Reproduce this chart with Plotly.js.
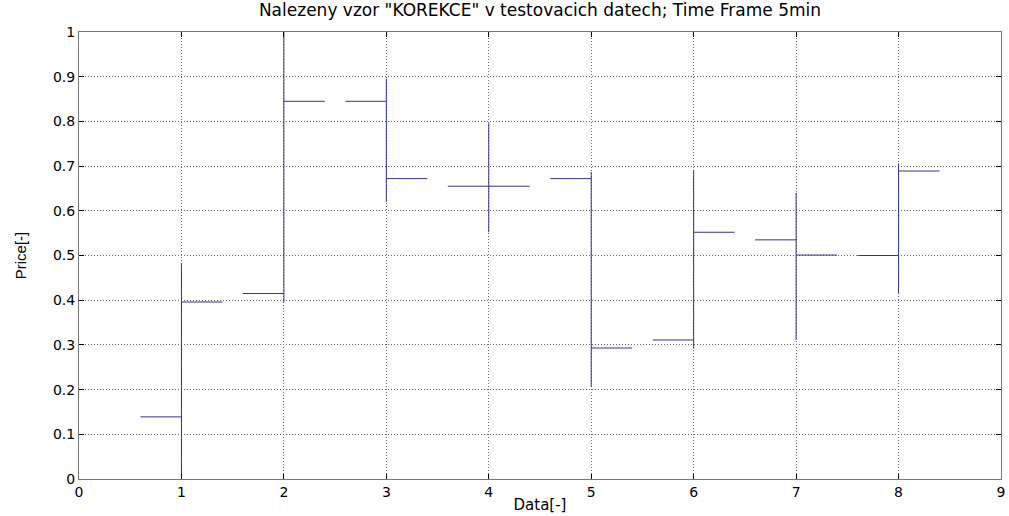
<!DOCTYPE html>
<html>
<head>
<meta charset="utf-8">
<script src="https://cdn.plot.ly/plotly-3.0.1.min.js"></script>
<style>
  html, body { margin: 0; padding: 0; background: #fff; }
  #chart { width: 1009px; height: 516px; }
</style>
</head>
<body>
<div id="chart"></div>
<script>
// Candle index and price levels (normalised 0..1)
const index = [1, 2, 3, 4, 5, 6, 7, 8];
const openPrice  = [0.139, 0.415, 0.845, 0.655, 0.672, 0.311, 0.535, 0.500];
const highPrice  = [0.482, 1.000, 0.896, 0.796, 0.687, 0.691, 0.640, 0.706];
const lowPrice   = [0.000, 0.395, 0.620, 0.552, 0.206, 0.292, 0.311, 0.415];
const closePrice = [0.396, 0.845, 0.672, 0.655, 0.293, 0.552, 0.501, 0.689];

const xTicks = [0, 1, 2, 3, 4, 5, 6, 7, 8, 9];
const yTicks = [0, 0.1, 0.2, 0.3, 0.4, 0.5, 0.6, 0.7, 0.8, 0.9, 1];
const yTickText = ['0', '0.1', '0.2', '0.3', '0.4', '0.5', '0.6', '0.7', '0.8', '0.9', '1'];

const barColor = '#34348a';

const trace = {
  type: 'ohlc',
  x: index,
  open: openPrice,
  high: highPrice,
  low: lowPrice,
  close: closePrice,
  tickwidth: 0.4,
  increasing: { line: { color: barColor, width: 1 } },
  decreasing: { line: { color: barColor, width: 1 } },
  hoverinfo: 'skip',
  showlegend: false
};

const axisFont = { family: 'DejaVu Sans, Arial, sans-serif', size: 14, color: '#000' };
const gridDots = '1px,2px';

const layout = {
  width: 1009,
  height: 516,
  margin: { l: 79, r: 8, t: 32, b: 37, pad: 0 },
  paper_bgcolor: '#fff',
  plot_bgcolor: '#fff',
  title: {
    text: 'Nalezeny vzor "KOREKCE" v testovacich datech; Time Frame 5min',
    font: { family: 'DejaVu Sans, Arial, sans-serif', size: 17, color: '#000' },
    x: 0.5, xref: 'paper', xanchor: 'center',
    y: 1, yref: 'container', yanchor: 'top', pad: { t: 4 }
  },
  xaxis: {
    range: [0, 9],
    tickvals: xTicks,
    ticktext: xTicks.map(String),
    tickfont: axisFont,
    ticks: 'inside', ticklen: 5, tickcolor: '#000',
    showline: true, linecolor: '#777', linewidth: 1, mirror: 'allticks',
    showgrid: true, gridcolor: '#666', griddash: gridDots, gridwidth: 1,
    zeroline: false,
    rangeslider: { visible: false },
    fixedrange: true,
    title: { text: 'Data[-]', font: { family: 'DejaVu Sans, Arial, sans-serif', size: 15, color: '#000' }, standoff: 0 }
  },
  yaxis: {
    range: [0, 1],
    tickvals: yTicks,
    ticktext: yTickText,
    tickfont: axisFont,
    ticks: 'inside', ticklen: 5, tickcolor: '#000',
    showline: true, linecolor: '#777', linewidth: 1, mirror: 'allticks',
    showgrid: true, gridcolor: '#666', griddash: gridDots, gridwidth: 1,
    zeroline: false,
    fixedrange: true,
    title: { text: 'Price[-]', font: { family: 'Liberation Sans Narrow, Arial, sans-serif', size: 15, color: '#000' }, standoff: 22 }
  }
};

Plotly.newPlot('chart', [trace], layout, { displayModeBar: false, staticPlot: true });
</script>
</body>
</html>
